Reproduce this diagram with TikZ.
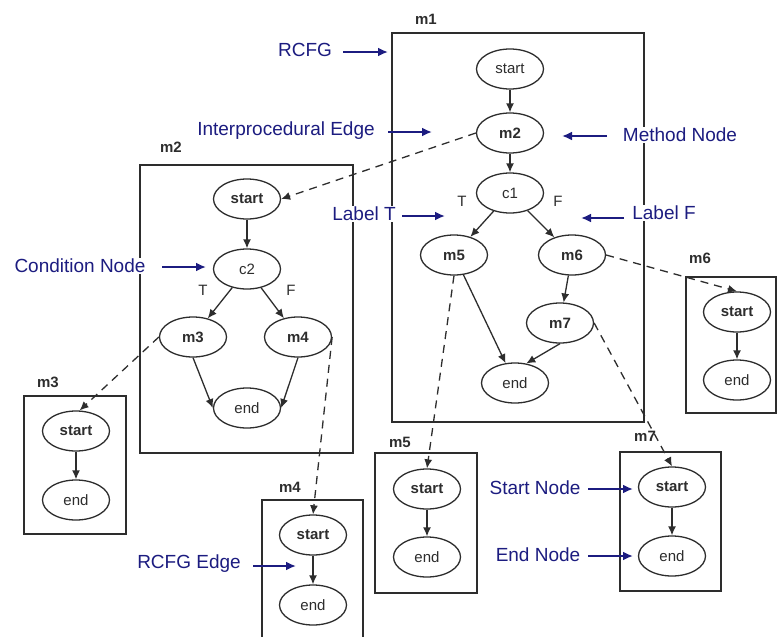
\documentclass[tikz,border=0pt]{standalone}
\usepackage{fontspec}
\setmainfont{Liberation Sans}
\usetikzlibrary{arrows.meta,shapes.geometric}
\definecolor{note}{RGB}{28,28,128}
\definecolor{ink}{RGB}{45,45,45}

\begin{document}
\begin{tikzpicture}[x=1pt,y=-1pt,
  cfgbox/.style={draw=ink,line width=1.7pt},
  vnode/.style={draw=ink,ellipse,line width=1.3pt,minimum width=67pt,minimum height=40pt,
    inner sep=0pt,text=ink,font=\fontsize{15}{17}\selectfont},
  bnode/.style={vnode,font=\fontsize{15}{17}\selectfont\bfseries},
  flow/.style={draw=ink,line width=1.3pt,-{Latex[length=9pt,width=8pt]}},
  call/.style={flow,dash pattern=on 8pt off 6pt},
  tag/.style={text=ink,font=\fontsize{15}{17}\selectfont\bfseries},
  branch/.style={text=ink,font=\fontsize{15}{17}\selectfont},
  note/.style={text=note,fill=white,inner sep=1.5pt,font=\fontsize{19}{22}\selectfont},
  pointer/.style={draw=note,line width=2.2pt,-{Latex[length=10pt,width=9pt]}}]

\useasboundingbox (0,0) rectangle (779,637);
\fill[white] (0,0) rectangle (779,637);

% ---- method boxes and their names ----
\draw[cfgbox] (392,33) rectangle (644,422);
\node[tag] (tm1) at (426,19) {m1};
\draw[cfgbox] (140,165) rectangle (353,453);
\node[tag] (tm2) at (171,147) {m2};
\draw[cfgbox] (24,396) rectangle (126,534);
\node[tag] (tm3) at (48,382) {m3};
\draw[cfgbox] (262,645) -- (262,500) -- (363,500) -- (363,645);
\node[tag] (tm4) at (290,487) {m4};
\draw[cfgbox] (375,453) rectangle (477,593);
\node[tag] (tm5) at (400,442) {m5};
\draw[cfgbox] (686,277) rectangle (776,413);
\node[tag] (tm6) at (700,258) {m6};
\draw[cfgbox] (620,452) rectangle (721,591);
\node[tag] (tm7) at (645,436) {m7};

% ---- m1 ----
\node[vnode] (s1) at (510,69) {start};
\node[bnode] (n12) at (510,133) {m2};
\node[vnode] (c1) at (510,193) {c1};
\node[bnode] (n15) at (454,255) {m5};
\node[bnode] (n16) at (572,255) {m6};
\node[bnode] (n17) at (560,323) {m7};
\node[vnode] (e1) at (515,383) {end};
\node[branch] (t1) at (462,201) {T};
\node[branch] (f1) at (558,201) {F};
\draw[flow] (s1) -- (n12);
\draw[flow] (n12) -- (c1);
\draw[flow] (c1) -- (n15);
\draw[flow] (c1) -- (n16);
\draw[flow] (n15) -- (e1);
\draw[flow] (n16) -- (n17);
\draw[flow] (n17.south) -- (e1.60);

% ---- m2 ----
\node[bnode] (s2) at (247,199) {start};
\node[vnode] (c2) at (247,269) {c2};
\node[bnode] (n23) at (193,337) {m3};
\node[bnode] (n24) at (298,337) {m4};
\node[vnode] (e2) at (247,408) {end};
\node[branch] (t2) at (203,290) {T};
\node[branch] (f2) at (291,290) {F};
\draw[flow] (s2) -- (c2);
\draw[flow] (c2) -- (n23);
\draw[flow] (c2) -- (n24);
\draw[flow] (n23.south) -- (e2.west);
\draw[flow] (n24.south) -- (e2.east);

% ---- leaf methods ----
\node[bnode] (s3) at (76,431) {start};
\node[vnode] (e3) at (76,500) {end};
\node[bnode] (s4) at (313,535) {start};
\node[vnode] (e4) at (313,605) {end};
\node[bnode] (s5) at (427,489) {start};
\node[vnode] (e5) at (427,557) {end};
\node[bnode] (s6) at (737,312) {start};
\node[vnode] (e6) at (737,380) {end};
\node[bnode] (s7) at (672,487) {start};
\node[vnode] (e7) at (672,556) {end};
\foreach \a/\b in {s3/e3,s4/e4,s5/e5,s6/e6,s7/e7}
  \draw[flow] (\a) -- (\b);

% ---- interprocedural edges ----
\draw[call] (n12.west) -- (s2.east);
\draw[call] (n23.west) -- (s3.80);
\draw[call] (n24.east) -- (s4.north);
\draw[call] (n15.south) -- (s5.north);
\draw[call] (n16.east) -- (s6.north);
\draw[call] (n17.east) -- (s7.north);

% ---- annotations ----
\node[note] (aRCFG) at (305,50) {RCFG};
\coordinate (pRCFG) at (388,52);
\draw[pointer] (343,52) -- (pRCFG);

\node[note] (aInter) at (286,131) {Interprocedural Edge};
\coordinate (pInter) at (432,132);
\draw[pointer] (388,132) -- (pInter);

\node[note] (aMethod) at (680,135) {Method Node};
\coordinate (pMethod) at (562,136);
\draw[pointer] (607,136) -- (pMethod);

\node[note] (aLabelT) at (364,214) {Label T};
\coordinate (pLabelT) at (445,216);
\draw[pointer] (402,216) -- (pLabelT);

\node[note] (aLabelF) at (664,213) {Label F};
\coordinate (pLabelF) at (581,218);
\draw[pointer] (624,218) -- (pLabelF);

\node[note] (aCond) at (80,266) {Condition Node};
\coordinate (pCond) at (206,267);
\draw[pointer] (162,267) -- (pCond);

\node[note] (aEdge) at (189,564) {RCFG Edge};
\coordinate (pEdge) at (296,566);
\draw[pointer] (253,566) -- (pEdge);

\node[note] (aStart) at (535,488) {Start Node};
\coordinate (pStart) at (633,489);
\draw[pointer] (588,489) -- (pStart);

\node[note] (aEnd) at (538,555) {End Node};
\coordinate (pEnd) at (633,556);
\draw[pointer] (588,556) -- (pEnd);
\end{tikzpicture}
\end{document}
